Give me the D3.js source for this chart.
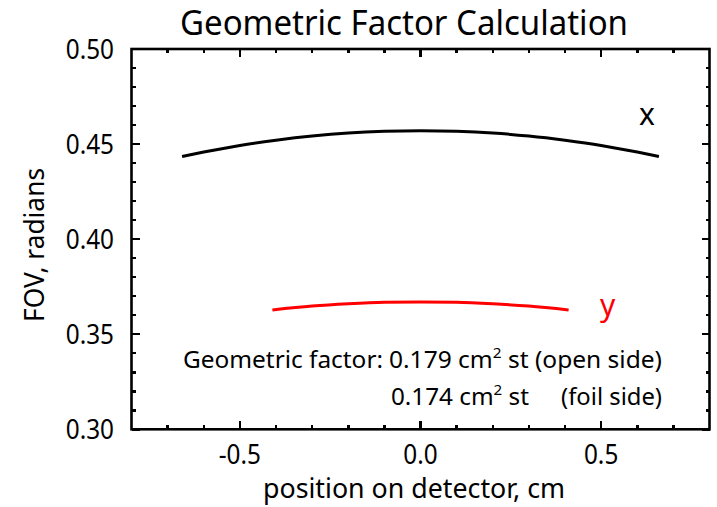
<!DOCTYPE html>
<html>
<head>
<meta charset="utf-8">
<script src="https://cdn.jsdelivr.net/npm/d3@7"></script>
<style>
  html, body { margin: 0; padding: 0; background: #fff; }
  svg { display: block; }
  text { font-family: "Noto Sans", "Open Sans", sans-serif; fill: #000; }
</style>
</head>
<body>
<svg id="chart" width="717" height="507"></svg>
<script>
// Detector position (cm) and field of view (radians) along each axis
const xPositions = [-0.66, -0.6, -0.5, -0.4, -0.3, -0.2, -0.1, 0.0, 0.1, 0.2, 0.3, 0.4, 0.5, 0.6, 0.66];
const fovX       = [0.4435, 0.4458, 0.4493, 0.4520, 0.4542, 0.4558, 0.4567, 0.4570, 0.4567, 0.4558, 0.4542, 0.4520, 0.4493, 0.4458, 0.4435];
const yPositions = [-0.41, -0.3, -0.2, -0.1, 0.0, 0.1, 0.2, 0.3, 0.41];
const fovY       = [0.3628, 0.3648, 0.3660, 0.3668, 0.3670, 0.3668, 0.3660, 0.3648, 0.3628];

// Axis ranges and ticks
const xDomain = [-0.8, 0.8];
const yDomain = [0.30, 0.50];
const xMajorTicks = [-0.5, 0.0, 0.5];
const xTickLabels = ["-0.5", "0.0", "0.5"];
const xMinorTicks = [-0.7, -0.6, -0.4, -0.3, -0.2, -0.1, 0.1, 0.2, 0.3, 0.4, 0.6, 0.7];
const yMajorTicks = [0.30, 0.35, 0.40, 0.45, 0.50];
const yTickLabels = ["0.30", "0.35", "0.40", "0.45", "0.50"];
const yMinorTicks = [0.31, 0.32, 0.33, 0.34, 0.36, 0.37, 0.38, 0.39, 0.41, 0.42, 0.43, 0.44, 0.46, 0.47, 0.48, 0.49];

const svg = d3.select("#chart");
const plotLeft = 131.5, plotRight = 709.5, plotTop = 49, plotBottom = 429.3;

const xScale = d3.scaleLinear().domain(xDomain).range([plotLeft, plotRight]);
const yScale = d3.scaleLinear().domain(yDomain).range([plotBottom, plotTop]);

// Squeeze a text to a narrower width, like a condensed humanist face
function condense(sel, k) {
  sel.each(function () {
    const len = this.getComputedTextLength();
    d3.select(this).attr("textLength", len * k).attr("lengthAdjust", "spacingAndGlyphs");
  });
}
function fitWidth(sel, w) {
  sel.attr("textLength", w).attr("lengthAdjust", "spacingAndGlyphs");
}

// FOV curves
const curve = d3.line().curve(d3.curveMonotoneX).x(d => xScale(d[0])).y(d => yScale(d[1]));
svg.append("path")
  .datum(d3.zip(xPositions, fovX))
  .attr("d", curve).attr("fill", "none").attr("stroke", "#000").attr("stroke-width", 3);
svg.append("path")
  .datum(d3.zip(yPositions, fovY))
  .attr("d", curve).attr("fill", "none").attr("stroke", "#ff0000").attr("stroke-width", 3);

// Plot frame
svg.append("rect")
  .attr("x", plotLeft).attr("y", plotTop)
  .attr("width", plotRight - plotLeft).attr("height", plotBottom - plotTop)
  .attr("fill", "none").attr("stroke", "#000").attr("stroke-width", 2.6);

const MAJOR = 8, MINOR = 4;

// Inward ticks on all four sides of the frame
const tickG = svg.append("g")
  .attr("stroke", "#000").attr("stroke-width", 2.5).attr("shape-rendering", "crispEdges");
function addXTicks(vals, len) {
  vals.forEach(v => {
    const px = xScale(v);
    tickG.append("line").attr("x1", px).attr("x2", px).attr("y1", plotBottom).attr("y2", plotBottom - len);
    tickG.append("line").attr("x1", px).attr("x2", px).attr("y1", plotTop).attr("y2", plotTop + len);
  });
}
function addYTicks(vals, len) {
  vals.forEach(v => {
    const py = yScale(v);
    tickG.append("line").attr("y1", py).attr("y2", py).attr("x1", plotLeft).attr("x2", plotLeft + len);
    tickG.append("line").attr("y1", py).attr("y2", py).attr("x1", plotRight).attr("x2", plotRight - len);
  });
}
addXTicks(xMajorTicks, MAJOR);
addXTicks(xMinorTicks, MINOR);
addYTicks(yMajorTicks, MAJOR);
addYTicks(yMinorTicks, MINOR);

// Tick labels
const xLabels = svg.append("g").selectAll("text").data(xMajorTicks).join("text")
  .attr("x", d => xScale(d)).attr("y", 464)
  .attr("text-anchor", "middle").attr("font-size", 27)
  .text((d, i) => xTickLabels[i]);
const yLabels = svg.append("g").selectAll("text").data(yMajorTicks).join("text")
  .attr("x", 114).attr("y", d => yScale(d) + 9.5)
  .attr("text-anchor", "end").attr("font-size", 27)
  .text((d, i) => yTickLabels[i]);
condense(xLabels, 0.9);
condense(yLabels, 0.9);

// Curve labels
svg.append("text").attr("x", xScale(0.627)).attr("y", yScale(0.4598))
  .attr("text-anchor", "middle").attr("font-size", 30).text("x");
svg.append("text").attr("x", xScale(0.518)).attr("y", yScale(0.3597))
  .attr("text-anchor", "middle").attr("font-size", 30).style("fill", "#ff0000").text("y");

// Title and axis titles
svg.append("text").attr("x", 404).attr("y", 35)
  .attr("text-anchor", "middle").attr("font-size", 34).text("Geometric Factor Calculation")
  .call(fitWidth, 448);
svg.append("text").attr("x", 414).attr("y", 498)
  .attr("text-anchor", "middle").attr("font-size", 27).text("position on detector, cm")
  .call(fitWidth, 302);
svg.append("text")
  .attr("transform", "translate(44,245) rotate(-90)")
  .attr("text-anchor", "middle").attr("font-size", 28).text("FOV, radians")
  .call(fitWidth, 154);

// Geometric factor annotation
const ann = svg.append("g").attr("font-size", 24);
ann.append("text").attr("x", 383).attr("y", 368).attr("text-anchor", "end")
  .text("Geometric factor:").call(fitWidth, 200);
function gfText(xPos, yPos, value, tail) {
  const t = ann.append("text").attr("x", xPos).attr("y", yPos).attr("text-anchor", "start");
  t.append("tspan").text(value + " cm");
  t.append("tspan").attr("font-size", 15).attr("dy", -10).text("2");
  t.append("tspan").attr("dy", 10).text(" st" + tail);
  return t;
}
gfText(389, 368, "0.179", " (open side)").call(fitWidth, 273);
gfText(391, 405, "0.174", "").call(fitWidth, 138);
ann.append("text").attr("x", 662).attr("y", 405).attr("text-anchor", "end")
  .text("(foil side)").call(fitWidth, 101);
</script>
</body>
</html>
